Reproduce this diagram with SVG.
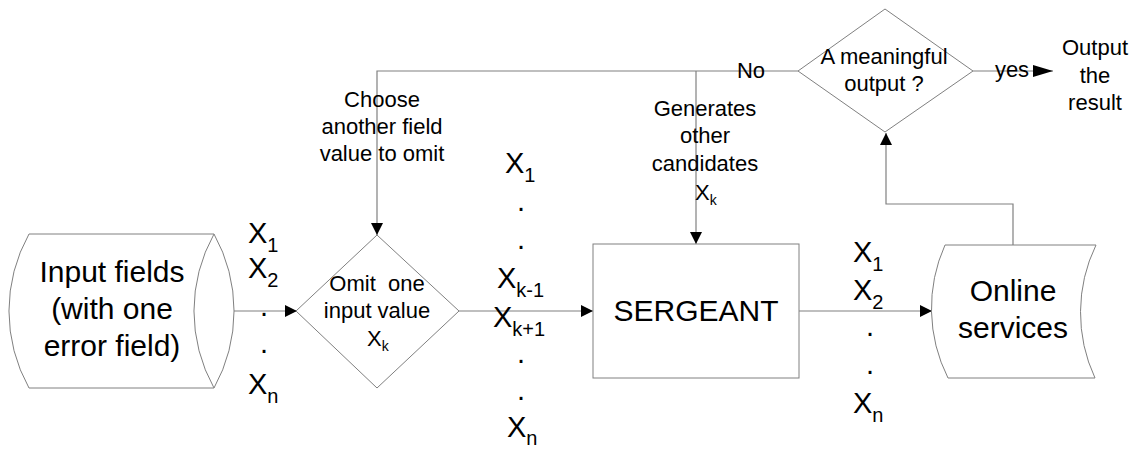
<svg xmlns="http://www.w3.org/2000/svg" width="1138" height="450" viewBox="0 0 1138 450">
<defs>
<marker id="ah" viewBox="0 0 12 12" refX="12" refY="6" markerWidth="12" markerHeight="12" markerUnits="userSpaceOnUse" orient="auto">
<path d="M0,0 L12,6 L0,12 Z" fill="#000"/>
</marker>
<marker id="ahb" viewBox="0 0 20 12" refX="20" refY="6" markerWidth="20" markerHeight="12" markerUnits="userSpaceOnUse" orient="auto">
<path d="M0,0 L20,6 L0,12 Z" fill="#000"/>
</marker>
<style>
.sh{fill:#fff;stroke:#808080;stroke-width:1}
.ln{fill:none;stroke:#808080;stroke-width:1.2}
.t{font-family:"Liberation Sans",Arial,sans-serif;fill:#000}
.s{font-size:22px;text-anchor:middle}
.b{font-size:30px;text-anchor:middle}
.x{font-size:29px}
.sub{font-size:20px}
.ssub{font-size:14px}
</style>
</defs>
<rect width="1138" height="450" fill="#fff"/>

<g id="connectors">
<path class="ln" d="M214,311 L297,311" marker-end="url(#ah)"/>
<path class="ln" d="M459,311 L593,311" marker-end="url(#ah)"/>
<path class="ln" d="M799,311 L932,311" marker-end="url(#ah)"/>
<path class="ln" d="M1013,245 L1013,204 L886,204 L886,133" marker-end="url(#ah)"/>
<path class="ln" d="M798,71 L377,71 L377,235" marker-end="url(#ah)"/>
<path class="ln" d="M696,71 L696,244" marker-end="url(#ah)"/>
<path class="ln" d="M973,71 L1053,71" marker-end="url(#ahb)"/>
<text class="t" x="751" y="78" font-size="22" text-anchor="middle">No</text>
<text class="t" x="1012" y="77" font-size="22" text-anchor="middle">yes</text>
<text class="t s" x="382"><tspan x="382" y="107">Choose</tspan><tspan x="382" y="134">another field</tspan><tspan x="382" y="161">value to omit</tspan></text>
<text class="t s" x="705"><tspan x="705" y="116">Generates</tspan><tspan x="705" y="143">other</tspan><tspan x="705" y="171">candidates</tspan></text>
<text class="t" x="695" y="200" font-size="22">X<tspan class="ssub" dy="5">k</tspan></text>
</g>

<g id="input-fields">
<path class="sh" d="M29,234 L214,234 A158,158 0 0 1 214,388 L29,388 A158,158 0 0 1 29,234 Z"/>
<path class="sh" d="M214,234 A158,158 0 0 0 214,388" fill="none"/>
<text class="t b"><tspan x="112" y="282">Input fields</tspan><tspan x="112" y="319">(with one</tspan><tspan x="112" y="356">error field)</tspan></text>
</g>

<g id="labels-input">
<text class="t x" x="248" y="243">X<tspan class="sub" dy="9">1</tspan></text>
<text class="t x" x="248" y="278">X<tspan class="sub" dy="9">2</tspan></text>
<text class="t x" x="264" y="316" text-anchor="middle">.</text>
<text class="t x" x="264" y="353" text-anchor="middle">.</text>
<text class="t x" x="248" y="394">X<tspan class="sub" dy="9">n</tspan></text>
</g>

<g id="omit">
<path class="sh" d="M377,235 L459,311 L377,388 L296,311 Z"/>
<text class="t s"><tspan x="377" y="291" xml:space="preserve">Omit  one</tspan><tspan x="377" y="318">input value</tspan></text>
<text class="t" x="367" y="346" font-size="22">X<tspan class="ssub" dy="5">k</tspan></text>
</g>

<g id="labels-middle">
<text class="t x" x="505" y="173">X<tspan class="sub" dy="9">1</tspan></text>
<text class="t x" x="521" y="211" text-anchor="middle">.</text>
<text class="t x" x="521" y="249" text-anchor="middle">.</text>
<text class="t x" x="497" y="288">X<tspan class="sub" dy="9">k-1</tspan></text>
<text class="t x" x="493" y="327">X<tspan class="sub" dy="9">k+1</tspan></text>
<text class="t x" x="521" y="363" text-anchor="middle">.</text>
<text class="t x" x="521" y="400" text-anchor="middle">.</text>
<text class="t x" x="507" y="437">X<tspan class="sub" dy="8">n</tspan></text>
</g>

<g id="sergeant">
<rect class="sh" x="593" y="244" width="206" height="134"/>
<text class="t b" x="696" y="321">SERGEANT</text>
</g>

<g id="labels-output">
<text class="t x" x="853" y="262">X<tspan class="sub" dy="9">1</tspan></text>
<text class="t x" x="853" y="300">X<tspan class="sub" dy="9">2</tspan></text>
<text class="t x" x="870" y="336" text-anchor="middle">.</text>
<text class="t x" x="870" y="374" text-anchor="middle">.</text>
<text class="t x" x="853" y="413">X<tspan class="sub" dy="9">n</tspan></text>
</g>

<g id="online-services">
<path class="sh" d="M945,245 L1096,245 A155,155 0 0 0 1095,378 L948,378 A155,155 0 0 1 945,245 Z"/>
<text class="t b"><tspan x="1013" y="301">Online</tspan><tspan x="1013" y="338">services</tspan></text>
</g>

<g id="meaningful">
<path class="sh" d="M885,9 L973,71 L885,132 L798,71 Z"/>
<text class="t s"><tspan x="884" y="64">A meaningful</tspan><tspan x="884" y="91">output ?</tspan></text>
</g>

<g id="output-result">
<text class="t s"><tspan x="1095" y="55">Output</tspan><tspan x="1095" y="83">the</tspan><tspan x="1095" y="110">result</tspan></text>
</g>
</svg>
